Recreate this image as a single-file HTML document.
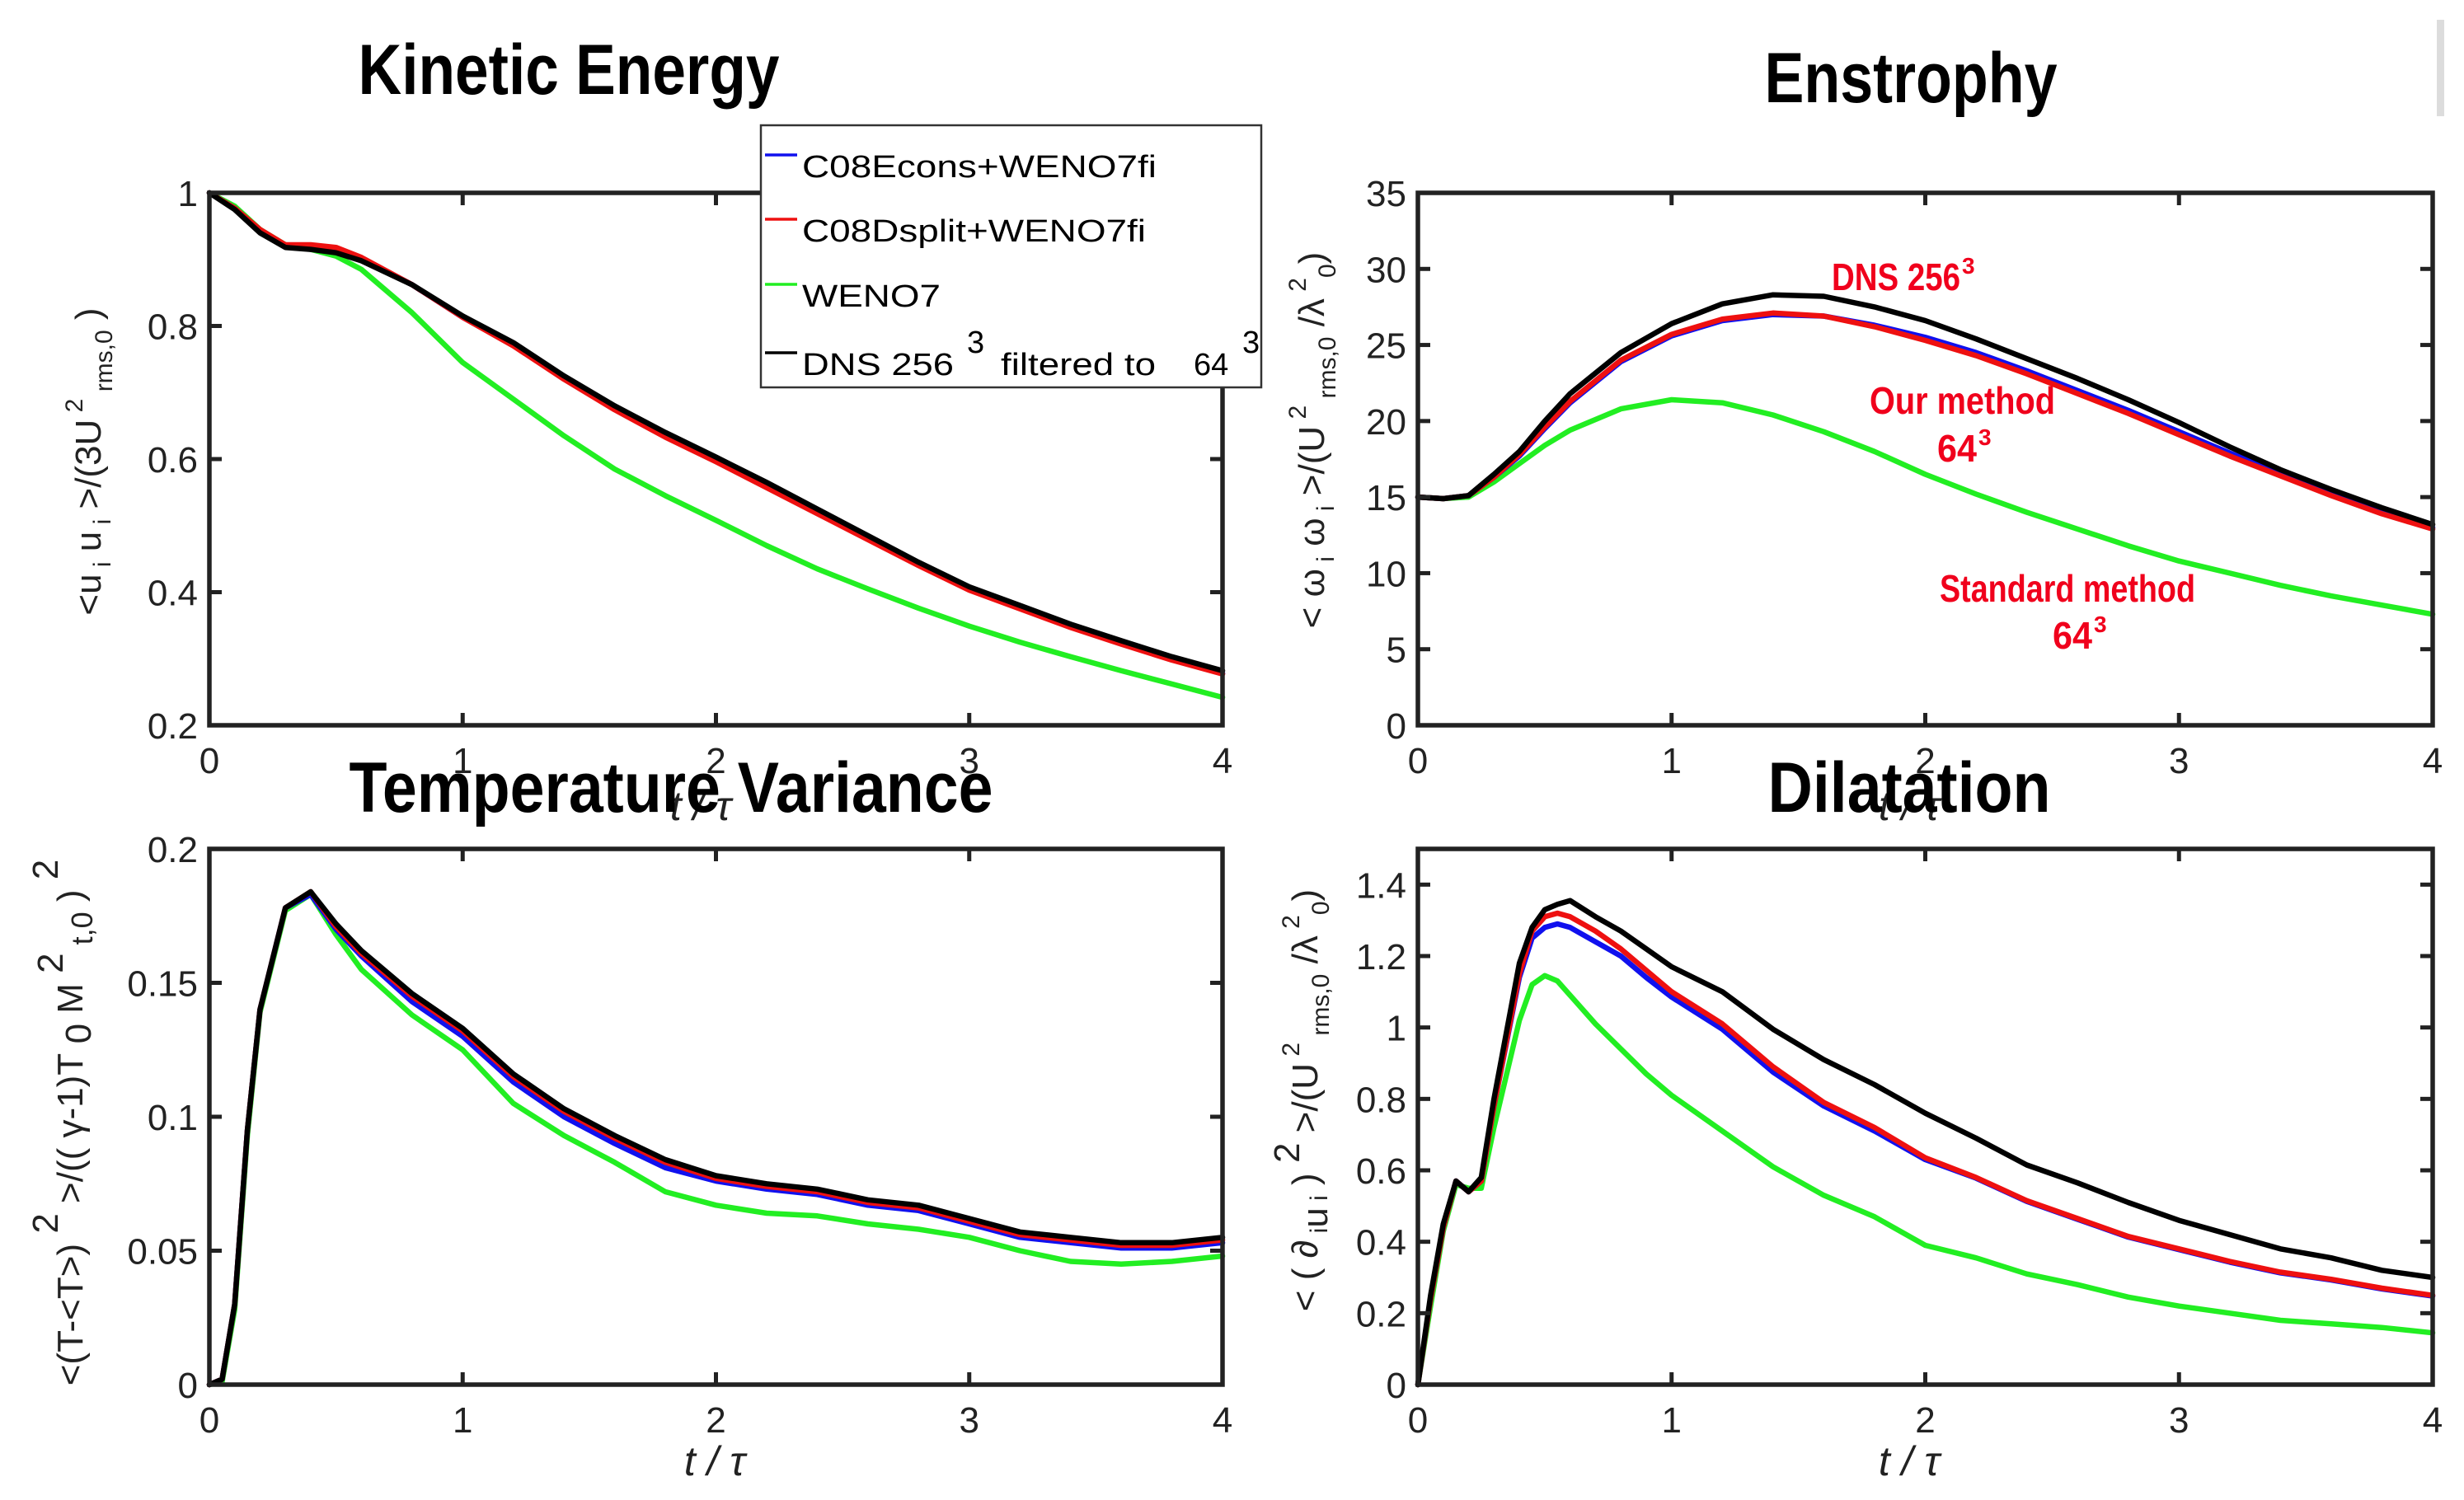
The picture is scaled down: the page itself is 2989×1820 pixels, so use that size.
<!DOCTYPE html>
<html><head><meta charset="utf-8">
<style>
html,body{margin:0;padding:0;background:#fff;}
svg{display:block;}
text{font-family:"Liberation Sans",sans-serif;}
</style></head>
<body>
<svg id="fig" width="2989" height="1820" viewBox="0 0 2989 1820" xmlns="http://www.w3.org/2000/svg">
<rect x="0" y="0" width="2989" height="1820" fill="#fff"/>
<rect x="2956" y="24" width="9" height="117" fill="#dcdcdc"/>
</svg>
<script>
// ---------- Kinetic energy ----------
const keT = [0,0.1,0.2,0.3,0.4,0.5,0.6,0.8,1.0,1.2,1.4,1.6,1.8,2.0,2.2,2.4,2.6,2.8,3.0,3.2,3.4,3.6,3.8,4.0];
const keBlack = [1,0.975,0.94,0.918,0.915,0.91,0.898,0.862,0.815,0.775,0.725,0.68,0.64,0.603,0.565,0.525,0.485,0.445,0.408,0.38,0.352,0.327,0.303,0.282];
const keRed   = [1,0.977,0.945,0.922,0.922,0.918,0.903,0.862,0.813,0.77,0.72,0.674,0.633,0.596,0.557,0.518,0.479,0.44,0.403,0.375,0.347,0.322,0.298,0.277];
const keBlue  = [1,0.977,0.944,0.921,0.921,0.917,0.902,0.862,0.813,0.771,0.721,0.675,0.634,0.597,0.558,0.519,0.48,0.441,0.404,0.376,0.348,0.323,0.299,0.278];
const keGreen = [1,0.98,0.945,0.922,0.915,0.905,0.885,0.82,0.745,0.69,0.635,0.585,0.545,0.508,0.47,0.435,0.405,0.376,0.349,0.325,0.303,0.282,0.262,0.242];
const keYTicks = [0.2,0.4,0.6,0.8,1];
const keYLabels = ["0.2","0.4","0.6","0.8","1"];

// ---------- Enstrophy ----------
const enT = [0,0.1,0.2,0.3,0.4,0.5,0.6,0.8,1.0,1.2,1.4,1.6,1.8,2.0,2.2,2.4,2.6,2.8,3.0,3.2,3.4,3.6,3.8,4.0];
const enBlack = [15,14.9,15.1,16.5,18,20,21.8,24.5,26.4,27.7,28.3,28.2,27.5,26.6,25.4,24.1,22.8,21.4,19.9,18.3,16.8,15.5,14.3,13.2];
const enRed   = [15,14.9,15.1,16.3,17.8,19.6,21.3,24.0,25.7,26.7,27.1,26.9,26.2,25.3,24.3,23.1,21.8,20.5,19.1,17.7,16.4,15.1,13.9,12.9];
const enBlue  = [15,14.9,15.1,16.3,17.7,19.5,21.2,23.9,25.6,26.6,27.0,26.9,26.3,25.5,24.5,23.3,22.0,20.7,19.3,17.9,16.6,15.3,14.1,13.0];
const enGreen = [15,14.9,15.0,16.0,17.2,18.4,19.4,20.8,21.4,21.2,20.4,19.3,18.0,16.5,15.2,14.0,12.9,11.8,10.8,10.0,9.2,8.5,7.9,7.3];
const enYTicks = [0,5,10,15,20,25,30,35];
const enYLabels = ["0","5","10","15","20","25","30","35"];

// ---------- Temperature variance ----------
const tvT = [0,0.05,0.1,0.15,0.2,0.3,0.4,0.5,0.6,0.8,1.0,1.2,1.4,1.6,1.8,2.0,2.2,2.4,2.6,2.8,3.0,3.2,3.4,3.6,3.8,4.0];
const tvBlack = [0,0.002,0.03,0.095,0.14,0.178,0.184,0.172,0.162,0.146,0.133,0.116,0.103,0.093,0.084,0.078,0.075,0.073,0.069,0.067,0.062,0.057,0.055,0.053,0.053,0.055];
const tvRed   = [0,0.002,0.03,0.095,0.14,0.178,0.184,0.171,0.161,0.145,0.132,0.115,0.102,0.092,0.083,0.077,0.074,0.072,0.068,0.066,0.061,0.056,0.054,0.052,0.052,0.054];
const tvBlue  = [0,0.002,0.03,0.095,0.14,0.178,0.183,0.170,0.160,0.143,0.130,0.113,0.100,0.090,0.081,0.076,0.073,0.071,0.067,0.065,0.060,0.055,0.053,0.051,0.051,0.053];
const tvGreen = [0,0.001,0.028,0.093,0.139,0.177,0.183,0.168,0.155,0.138,0.125,0.105,0.093,0.083,0.072,0.067,0.064,0.063,0.060,0.058,0.055,0.050,0.046,0.045,0.046,0.048];
const tvYTicks = [0,0.05,0.1,0.15,0.2];
const tvYLabels = ["0","0.05","0.1","0.15","0.2"];

// ---------- Dilatation ----------
const dlT = [0,0.05,0.1,0.15,0.2,0.25,0.3,0.4,0.45,0.5,0.55,0.6,0.7,0.8,0.9,1.0,1.2,1.4,1.6,1.8,2.0,2.2,2.4,2.6,2.8,3.0,3.2,3.4,3.6,3.8,4.0];
const dlBlack = [0,0.25,0.45,0.57,0.54,0.58,0.8,1.18,1.28,1.33,1.345,1.355,1.31,1.27,1.22,1.17,1.1,0.995,0.91,0.84,0.76,0.69,0.615,0.565,0.51,0.46,0.42,0.38,0.355,0.32,0.30];
const dlRed   = [0,0.24,0.44,0.57,0.54,0.57,0.78,1.15,1.27,1.31,1.32,1.31,1.27,1.22,1.16,1.1,1.01,0.89,0.79,0.72,0.635,0.58,0.515,0.465,0.415,0.38,0.345,0.315,0.295,0.27,0.25];
const dlBlue  = [0,0.24,0.44,0.57,0.54,0.57,0.78,1.14,1.25,1.28,1.29,1.28,1.24,1.2,1.14,1.085,0.995,0.875,0.78,0.71,0.63,0.578,0.513,0.463,0.413,0.378,0.343,0.313,0.293,0.268,0.248];
const dlGreen = [0,0.22,0.43,0.56,0.55,0.55,0.72,1.02,1.12,1.145,1.13,1.09,1.01,0.94,0.87,0.81,0.71,0.61,0.53,0.47,0.39,0.355,0.31,0.28,0.245,0.22,0.2,0.18,0.17,0.16,0.145];
const dlYTicks = [0,0.2,0.4,0.6,0.8,1,1.2,1.4];
const dlYLabels = ["0","0.2","0.4","0.6","0.8","1","1.2","1.4"];

const xTicks = [0,1,2,3,4];
const xTickLabels = ["0","1","2","3","4"];

const NS = "http://www.w3.org/2000/svg";
const svg = document.getElementById("fig");
function mk(tag, attrs, parent){
  const e = document.createElementNS(NS, tag);
  for (const k in attrs) e.setAttribute(k, attrs[k]);
  (parent||svg).appendChild(e);
  return e;
}

function panel(opt){
  const g = mk("g", {});
  
  
  const L=opt.L,R=opt.R,T=opt.T,B=opt.B;
  const sx = v => L + (v - 0)/(4 - 0)*(R-L);
  const sy = v => B - (v - opt.ymin)/(opt.ymax - opt.ymin)*(B-T);
  opt.series.forEach(s=>{
    const pts = s.y.map((v,i)=> sx(s.t[i]).toFixed(1)+","+sy(v).toFixed(1)).join(" ");
    const p = mk("polyline", {points:pts, fill:"none", stroke:s.color, "stroke-width":6.5, "stroke-linejoin":"round","stroke-linecap":"round"}, g);
    
    
  });
  const box = mk("rect", {x:L,y:T,width:R-L,height:B-T,fill:"none",stroke:"#222","stroke-width":5.5}, g);
  
  
  xTicks.forEach((v,i)=>{
    const x = sx(v);
    mk("line",{x1:x,y1:B,x2:x,y2:B-15,stroke:"#222","stroke-width":5},g);
    mk("line",{x1:x,y1:T,x2:x,y2:T+15,stroke:"#222","stroke-width":5},g);
    const t = mk("text",{x:x,y:B+58,"font-size":44,"text-anchor":"middle",fill:"#222"},g);
    t.textContent = xTickLabels[i];
    
    
  });
  opt.yTicks.forEach((v,i)=>{
    const y = sy(v);
    mk("line",{x1:L,y1:y,x2:L+15,y2:y,stroke:"#222","stroke-width":5},g);
    mk("line",{x1:R,y1:y,x2:R-15,y2:y,stroke:"#222","stroke-width":5},g);
    const t = mk("text",{x:L-14,y:y+16,"font-size":44,"text-anchor":"end",fill:"#222"},g);
    t.textContent = opt.yLabels[i];
    
    
  });
  const xl = mk("text",{x:opt.xlx,y:opt.xly,"font-size":50,"text-anchor":"middle","font-family":"Liberation Serif, serif","font-style":"italic",fill:"#222"},g);
  xl.textContent = "t / τ";
  
  
  const yl = mk("text",{transform:`translate(${opt.ylx},${opt.yly}) rotate(-90)`,"font-size":44,"text-anchor":"middle",fill:"#222"},g);
  
  
  opt.ylab.forEach(seg=>{
    const ts = mk("tspan",{},yl);
    if (seg[1]) ts.setAttribute("dy", seg[1]);
    if (seg[2]) ts.setAttribute("font-size", seg[2]);
    ts.textContent = seg[0];
  });
  const ti = mk("text",{x:opt.tx,y:opt.ty,"font-size":86,"font-weight":"bold","text-anchor":"middle",textLength:opt.tw,lengthAdjust:"spacingAndGlyphs",fill:"#000"},g);
  ti.textContent = opt.title;
  
  
}

panel({name:"kinetic-energy-panel",L:254,R:1483,T:234,B:880,ymin:0.2,ymax:1,yTicks:keYTicks,yLabels:keYLabels,
  series:[{t:keT,y:keGreen,color:"#22ee22",name:"ke-weno7-line"},{t:keT,y:keBlue,color:"#1010ee",name:"ke-c08econs-line"},{t:keT,y:keRed,color:"#ee1010",name:"ke-c08dsplit-line"},{t:keT,y:keBlack,color:"#000",name:"ke-dns-line"}],
  xlx:850,xly:995,ylx:122,yly:560,
  ylab:[["<u",0],[" i","12","30"],[" u","-12","44"],[" i","12","30"],[" >/(3U","-12","44"],[" 2","-22","30"],[" rms,0","36","30"],[" )","-14","44"]],
  title:"Kinetic Energy",tx:690,ty:114,tw:511});

panel({name:"enstrophy-panel",L:1720,R:2951,T:234,B:880,ymin:0,ymax:35,yTicks:enYTicks,yLabels:enYLabels,
  series:[{t:enT,y:enGreen,color:"#22ee22",name:"en-weno7-line"},{t:enT,y:enBlue,color:"#1010ee",name:"en-c08econs-line"},{t:enT,y:enRed,color:"#ee1010",name:"en-c08dsplit-line"},{t:enT,y:enBlack,color:"#000",name:"en-dns-line"}],
  xlx:2316,xly:995,ylx:1606,yly:534,
  ylab:[["< ω",0],[" i","12","30"],[" ω","-12","44"],[" i","12","30"],[" >/(U","-12","44"],[" 2","-22","30"],[" rms,0","36","30"],[" /λ","-14","44"],[" 2","-22","30"],["0","36","30"],[")","-14","44"]],
  title:"Enstrophy",tx:2318,ty:124,tw:355});

panel({name:"temperature-variance-panel",L:254,R:1483,T:1030,B:1680,ymin:0,ymax:0.2,yTicks:tvYTicks,yLabels:tvYLabels,
  series:[{t:tvT,y:tvGreen,color:"#22ee22",name:"tv-weno7-line"},{t:tvT,y:tvBlue,color:"#1010ee",name:"tv-c08econs-line"},{t:tvT,y:tvRed,color:"#ee1010",name:"tv-c08dsplit-line"},{t:tvT,y:tvBlack,color:"#000",name:"tv-dns-line"}],
  xlx:867,xly:1790,ylx:100,yly:1362,
  ylab:[["<(T-<T>)",0],["  2","-30","44"],[" >/(( γ-1)T","30","44"],[" 0","10","44"],[" M","-10","44"],[" 2","-24","44"],[" t,0","36","36"],[" )","-12","44"],[" 2","-30","44"]],
  title:"Temperature Variance",tx:814,ty:985,tw:781});

panel({name:"dilatation-panel",L:1720,R:2951,T:1030,B:1680,ymin:0,ymax:1.5,yTicks:dlYTicks,yLabels:dlYLabels,
  series:[{t:dlT,y:dlGreen,color:"#22ee22",name:"dl-weno7-line"},{t:dlT,y:dlBlue,color:"#1010ee",name:"dl-c08econs-line"},{t:dlT,y:dlRed,color:"#ee1010",name:"dl-c08dsplit-line"},{t:dlT,y:dlBlack,color:"#000",name:"dl-dns-line"}],
  xlx:2316,xly:1790,ylx:1598,yly:1335,
  ylab:[["< ( ∂",0],[" i","12","30"],["u","0","44"],[" i","0","30"],[" )","-12","44"],[" 2","-22","44"],[" >/(U","22","44"],[" 2","-22","30"],[" rms,0","36","30"],[" /λ","-14","44"],[" 2","-22","30"],["0","36","30"],[")","-14","44"]],
  title:"Dilatation",tx:2316,ty:985,tw:343});

const ann = [["DNS 256","2222","352",156],["Our method","2268","502",225],["64","2350","560",48],["Standard method","2353","730",310],["64","2490","787",48]];
ann.forEach(a=>{
  const t = mk("text",{x:a[1],y:a[2],"font-size":46,"font-weight":"bold",fill:"#f0001c",textLength:a[3],lengthAdjust:"spacingAndGlyphs"});
  t.textContent = a[0];
  
  
  if (a[0]!=="Our method" && a[0]!=="Standard method"){
    const s = mk("text",{x:+a[1]+a[3]+2,y:+a[2]-20,"font-size":28,"font-weight":"bold",fill:"#f0001c"});
    s.textContent = "3";
    
    
  }
});

const lg = mk("g",{});


mk("rect",{x:923,y:152,width:607,height:318,fill:"#fff",stroke:"#333","stroke-width":2.5},lg);
const legNames = ["C08Econs+WENO7fi","C08Dsplit+WENO7fi","WENO7","DNS 256"];
const legColors = ["#1010ee","#ee1010","#22ee22","#000"];
const legBase = [215,293,372,455];
const legLen = [430,417,168,184];
legNames.forEach((n,i)=>{
  const ln = mk("line",{x1:928,y1:legBase[i]-27,x2:967,y2:legBase[i]-27,stroke:legColors[i],"stroke-width":3.5},lg);
  
  
  const t = mk("text",{x:973,y:legBase[i],"font-size":38,fill:"#000",textLength:legLen[i],lengthAdjust:"spacingAndGlyphs"},lg);
  t.textContent = n;
  
  
});
[["3",1173,428],["filtered to",1214,455],["64",1448,455],["3",1507,428]].forEach(a=>{
  const t = mk("text",{x:a[1],y:a[2],"font-size":38,fill:"#000"},lg);
  if (a[0]==="filtered to"){ t.setAttribute("textLength",188); t.setAttribute("lengthAdjust","spacingAndGlyphs"); }
  t.textContent = a[0];
  
  
});
</script>
</body></html>
